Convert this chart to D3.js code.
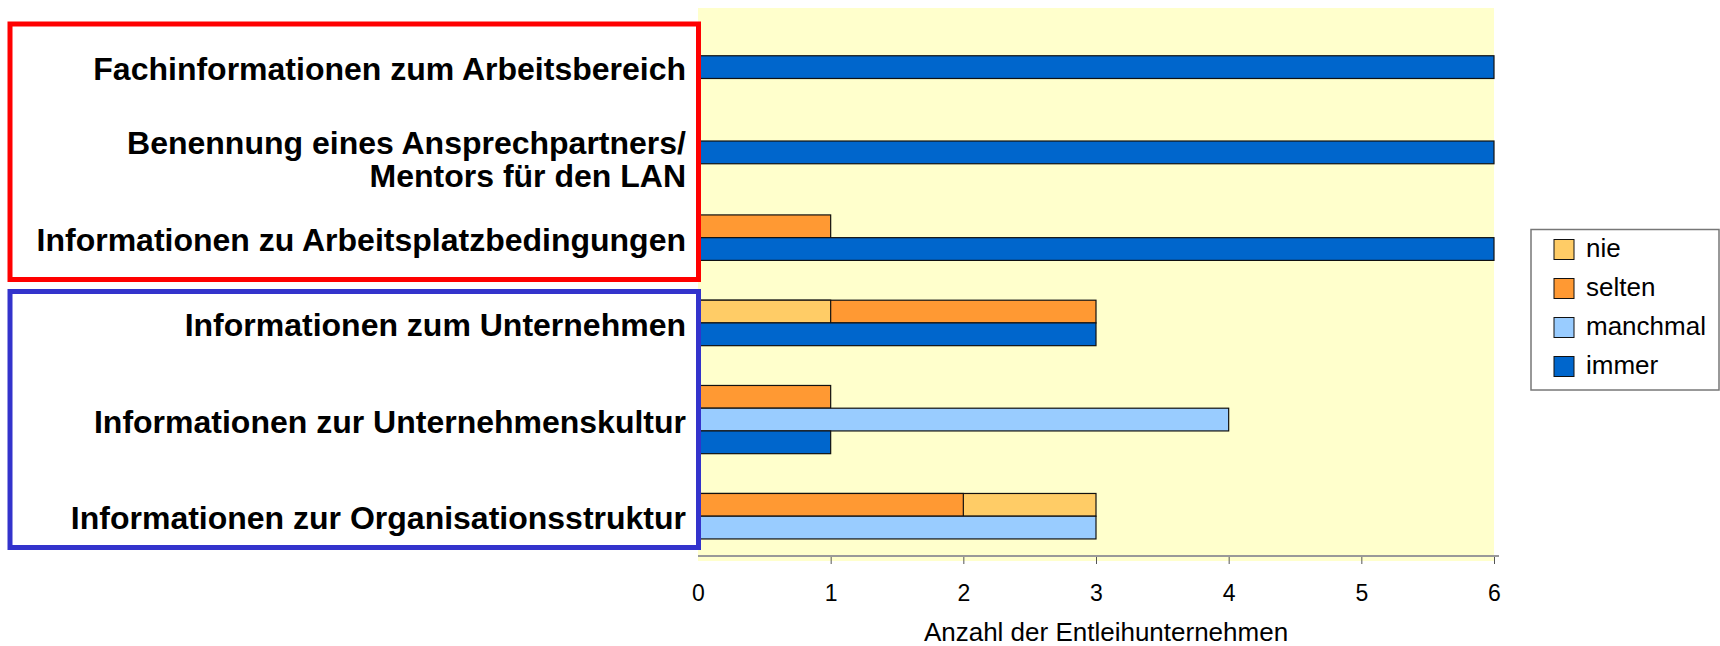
<!DOCTYPE html>
<html>
<head>
<meta charset="utf-8">
<script src="https://cdn.jsdelivr.net/npm/d3@7"></script>
<style>
body { margin: 0; background: #fff; }
svg { display: block; font-family: "Liberation Sans", Arial, sans-serif; }
</style>
</head>
<body>
<svg id="chart" width="1720" height="646"></svg>
<script>
// category labels (one entry per line)
const categories = [
    ["Fachinformationen zum Arbeitsbereich"],
    ["Benennung eines Ansprechpartners/", "Mentors für den LAN"],
    ["Informationen zu Arbeitsplatzbedingungen"],
    ["Informationen zum Unternehmen"],
    ["Informationen zur Unternehmenskultur"],
    ["Informationen zur Organisationsstruktur"]
];
const seriesNames = ["nie", "selten", "manchmal", "immer"];
const nie      = [0, 0, 0, 1, 0, 3];
const selten   = [0, 0, 1, 3, 1, 2];
const manchmal = [0, 0, 0, 0, 4, 3];
const immer    = [6, 6, 6, 3, 1, 0];
const xTicks = [0, 1, 2, 3, 4, 5, 6];
const xTitle = "Anzahl der Entleihunternehmen";

const values = { nie: nie, selten: selten, manchmal: manchmal, immer: immer };
const colors = { nie: "#FFCC66", selten: "#FF9933", manchmal: "#99CCFF", immer: "#0066CC" };

// nie + selten share one row (drawn overlapped), the others get their own row
const slotGroups = [["nie", "selten"], ["manchmal"], ["immer"]];

const plot = { left: 698, right: 1494, top: 8, bottom: 556 };
const padTop = 1.6, gap = 1.75, padBottom = 0.75, minRows = 2;

const svg = d3.select("#chart");

// work out where each category sits (in bar-row units)
let cursor = padTop;
const layout = categories.map((lines, i) => {
    const slots = slotGroups.filter(g => g.some(s => values[s][i] > 0));
    const region = Math.max(slots.length, minRows);
    const r = { i: i, lines: lines, start: cursor, region: region, slots: slots };
    cursor += region + gap;
    return r;
});
const total = cursor - gap + padBottom;

const y = d3.scaleLinear().domain([0, total]).range([plot.top, plot.bottom]);
const x = d3.scaleLinear().domain([0, 6]).range([plot.left, plot.right]);

// background of plot area
svg.append("rect")
    .attr("x", plot.left)
    .attr("y", plot.top)
    .attr("width", plot.right - plot.left)
    .attr("height", plot.bottom - plot.top + 5)
    .attr("fill", "#FFFFCC");

// flatten bars
const bars = [];
layout.forEach(c => {
    const off = c.start + (c.region - c.slots.length) / 2;
    c.slots.forEach((g, k) => {
        const inSlot = g.filter(s => values[s][c.i] > 0)
            .sort((a, b) => values[b][c.i] - values[a][c.i]);
        inSlot.forEach(s => {
            bars.push({ name: s, val: values[s][c.i], row: off + k });
        });
    });
});

svg.append("g").selectAll("rect").data(bars)
    .enter()
    .append("rect")
    .attr("x", x(0))
    .attr("y", d => y(d.row))
    .attr("width", d => x(d.val) - x(0))
    .attr("height", d => y(d.row + 1) - y(d.row))
    .attr("fill", d => colors[d.name])
    .attr("stroke", "#111")
    .attr("stroke-width", 1.2);

// x axis
const xAxis = d3.axisBottom(x)
    .tickValues(xTicks)
    .tickFormat(d3.format("d"))
    .tickSize(8)
    .tickSizeOuter(0)
    .tickPadding(21);

const ax = svg.append("g")
    .attr("transform", `translate(0, ${plot.bottom})`)
    .call(xAxis);
ax.select(".domain").remove();
ax.selectAll(".tick line").attr("stroke", "#555").attr("y1", 1)
    .style("display", d => d === 0 ? "none" : null);
ax.selectAll(".tick text")
    .attr("fill", "#000")
    .style("font-size", "23px")
    .style("font-family", "'Liberation Sans', Arial, sans-serif");
ax.append("line")
    .attr("x1", x(0))
    .attr("x2", x(6) + 5)
    .attr("stroke", "#999")
    .attr("stroke-width", 2);

svg.append("text")
    .attr("x", (plot.left + plot.right) / 2 + 10)
    .attr("y", 641)
    .attr("text-anchor", "middle")
    .style("font-size", "26px")
    .text(xTitle);

// category labels, one text per line
const lineGap = 33;
const labelLines = [];
layout.forEach(c => {
    const n = c.lines.length;
    const cy = y(c.start + c.region / 2) + (n > 1 ? 5 : 0);
    c.lines.forEach((t, j) => {
        labelLines.push({ text: t, y: cy + 13 + (j - (n - 1) / 2) * lineGap });
    });
});
svg.append("g").selectAll("text").data(labelLines)
    .enter()
    .append("text")
    .attr("x", 686)
    .attr("y", d => d.y)
    .attr("text-anchor", "end")
    .style("font-size", "32px")
    .style("font-weight", "bold")
    .text(d => d.text);

// group boxes
const boxes = [
    { top: 24, bottom: 279.5, color: "#FF0000" },
    { top: 291.5, bottom: 547.5, color: "#3333CC" }
];
svg.append("g").selectAll("rect").data(boxes)
    .enter()
    .append("rect")
    .attr("x", 10)
    .attr("y", d => d.top)
    .attr("width", 688.5)
    .attr("height", d => d.bottom - d.top)
    .attr("fill", "none")
    .attr("stroke", d => d.color)
    .attr("stroke-width", 5);

// legend
const leg = svg.append("g");
leg.append("rect")
    .attr("x", 1531)
    .attr("y", 229.5)
    .attr("width", 188)
    .attr("height", 160.5)
    .attr("fill", "#fff")
    .attr("stroke", "#777")
    .attr("stroke-width", 1.5);
const item = leg.selectAll("g.item").data(seriesNames)
    .enter()
    .append("g")
    .attr("class", "item")
    .attr("transform", (d, i) => `translate(1554, ${239.5 + i * 39})`);
item.append("rect")
    .attr("width", 20)
    .attr("height", 20)
    .attr("fill", d => colors[d])
    .attr("stroke", "#111")
    .attr("stroke-width", 1);
item.append("text")
    .attr("x", 32)
    .attr("y", 17.5)
    .style("font-size", "26px")
    .text(d => d);
</script>
</body>
</html>
